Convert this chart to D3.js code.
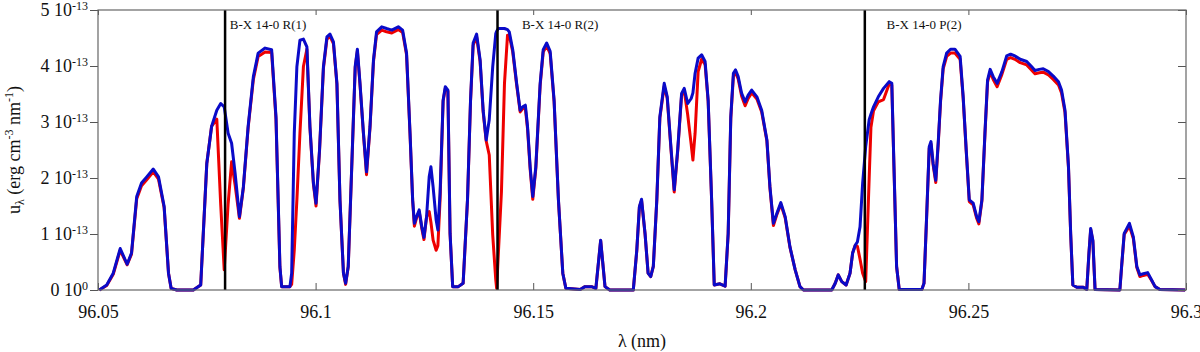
<!DOCTYPE html>
<html>
<head>
<meta charset="utf-8">
<script src="https://cdn.jsdelivr.net/npm/d3@7"></script>
<style>
  html, body { margin: 0; padding: 0; background: #fff; }
  svg text { font-family: 'Liberation Serif', 'Times New Roman', Times, serif; fill: #111; }
</style>
</head>
<body>
<div id="chart"></div>
<script>
// wavelength grid (nm), energy density in units of 1e-13 erg cm-3 nm-1
const wavelength = [
  96.0503, 96.0520, 96.0535, 96.0551, 96.0567, 96.0577, 96.0589, 96.0600, 96.0612, 96.0627,
  96.0639, 96.0652, 96.0662, 96.0668, 96.0681, 96.0719, 96.0736, 96.0750, 96.0761, 96.0773,
  96.0782, 96.0790, 96.0799, 96.0807, 96.0815, 96.0825, 96.0834, 96.0845, 96.0857, 96.0868,
  96.0884, 96.0899, 96.0909, 96.0918, 96.0922, 96.0941, 96.0945, 96.0951, 96.0957, 96.0964,
  96.0972, 96.0980, 96.0987, 96.0995, 96.1001, 96.1009, 96.1018, 96.1026, 96.1033, 96.1041,
  96.1049, 96.1056, 96.1064, 96.1069, 96.1075, 96.1083, 96.1091, 96.1096, 96.1102, 96.1110,
  96.1117, 96.1125, 96.1133, 96.1140, 96.1152, 96.1163, 96.1175, 96.1190, 96.1200, 96.1209,
  96.1217, 96.1223, 96.1227, 96.1232, 96.1238, 96.1244, 96.1249, 96.1255, 96.1261, 96.1265,
  96.1270, 96.1277, 96.1281, 96.1286, 96.1293, 96.1298, 96.1304, 96.1309, 96.1315, 96.1328,
  96.1339, 96.1349, 96.1356, 96.1362, 96.1370, 96.1378, 96.1385, 96.1392, 96.1399, 96.1407,
  96.1414, 96.1416, 96.1420, 96.1427, 96.1434, 96.1441, 96.1445, 96.1453, 96.1462, 96.1470,
  96.1476, 96.1482, 96.1487, 96.1493, 96.1499, 96.1506, 96.1516, 96.1523, 96.1531, 96.1539,
  96.1548, 96.1558, 96.1568, 96.1575, 96.1608, 96.1619, 96.1634, 96.1644, 96.1655, 96.1665,
  96.1676, 96.1730, 96.1738, 96.1744, 96.1749, 96.1757, 96.1764, 96.1770, 96.1776, 96.1784,
  96.1791, 96.1801, 96.1808, 96.1817, 96.1824, 96.1832, 96.1841, 96.1847, 96.1855, 96.1863,
  96.1867, 96.1872, 96.1879, 96.1887, 96.1895, 96.1902, 96.1910, 96.1916, 96.1929, 96.1941,
  96.1948, 96.1954, 96.1960, 96.1965, 96.1971, 96.1979, 96.1987, 96.1994, 96.2002, 96.2014,
  96.2025, 96.2037, 96.2044, 96.2052, 96.2060, 96.2069, 96.2079, 96.2090, 96.2102, 96.2113,
  96.2121, 96.2186, 96.2194, 96.2201, 96.2209, 96.2219, 96.2228, 96.2234, 96.2240, 96.2245,
  96.2251, 96.2257, 96.2264, 96.2272, 96.2276, 96.2282, 96.2293, 96.2305, 96.2318, 96.2324,
  96.2329, 96.2335, 96.2341, 96.2393, 96.2398, 96.2404, 96.2410, 96.2414, 96.2419, 96.2425,
  96.2431, 96.2436, 96.2442, 96.2450, 96.2459, 96.2469, 96.2481, 96.2488, 96.2495, 96.2502,
  96.2511, 96.2519, 96.2524, 96.2531, 96.2538, 96.2544, 96.2550, 96.2557, 96.2566, 96.2577,
  96.2588, 96.2597, 96.2607, 96.2619, 96.2634, 96.2645, 96.2653, 96.2663, 96.2672, 96.2684,
  96.2695, 96.2707, 96.2714, 96.2722, 96.2730, 96.2735, 96.2740, 96.2749, 96.2764, 96.2772,
  96.2777, 96.2781, 96.2786, 96.2791, 96.2848, 96.2852, 96.2858, 96.2870, 96.2879, 96.2887,
  96.2894, 96.2902, 96.2912, 96.2921, 96.2929, 96.2940, 96.2998
]

const modelBlue = [
  0, 0.09, 0.30, 0.74, 0.46, 0.66, 1.67, 1.91, 2.02, 2.16,
  2.02, 1.49, 0.30, 0.03, 0, 0, 0.09, 2.26, 2.92, 3.21,
  3.33, 3.27, 2.80, 2.62, 2.09, 1.31, 1.84, 2.92, 3.81, 4.23,
  4.32, 4.29, 3.09, 0.42, 0.06, 0.06, 0.30, 2.80, 3.99, 4.46,
  4.48, 4.34, 2.92, 1.91, 1.55, 2.50, 3.99, 4.52, 4.57, 4.43,
  3.69, 1.61, 0.30, 0.12, 0.42, 2.20, 3.99, 4.30, 3.69, 2.80,
  2.11, 2.92, 4.11, 4.61, 4.70, 4.67, 4.64, 4.70, 4.64, 4.23,
  2.80, 1.61, 1.19, 1.31, 1.43, 1.13, 0.94, 1.31, 2.02, 2.20,
  1.84, 1.25, 1.07, 1.73, 3.39, 3.63, 3.57, 1.01, 0.06, 0.06,
  0.12, 1.61, 3.39, 4.41, 4.57, 4.11, 3.21, 2.68, 3.04, 3.99,
  4.58, 4.62, 4.67, 4.67, 4.67, 4.65, 4.61, 4.29, 3.69, 3.21,
  3.27, 3.30, 2.92, 2.20, 1.67, 2.20, 3.69, 4.29, 4.41, 4.26,
  3.39, 1.61, 0.30, 0.03, 0.01, 0.06, 0.06, 0.03, 0.89, 0.06,
  0, 0, 0.71, 1.49, 1.62, 1.01, 0.30, 0.24, 0.42, 1.61,
  3.09, 3.69, 3.45, 2.50, 1.79, 2.50, 3.51, 3.60, 3.33, 3.42,
  3.52, 3.87, 4.14, 4.20, 4.08, 3.39, 1.61, 0.09, 0.11, 0.07,
  1.01, 3.09, 3.87, 3.93, 3.81, 3.51, 3.36, 3.48, 3.57, 3.45,
  3.21, 2.68, 1.84, 1.19, 1.37, 1.56, 1.31, 0.77, 0.36, 0.06,
  0, 0, 0.12, 0.27, 0.15, 0.09, 0.30, 0.66, 0.80, 0.86,
  1.13, 1.91, 2.56, 3.04, 3.14, 3.27, 3.45, 3.60, 3.72, 3.69,
  2.20, 0.42, 0.01, 0.01, 0.12, 1.31, 2.56, 2.65, 2.26, 1.96,
  2.68, 3.39, 3.99, 4.23, 4.30, 4.30, 4.17, 3.45, 2.50, 1.61,
  1.55, 1.31, 1.22, 1.61, 2.80, 3.75, 3.94, 3.81, 3.69, 3.90,
  4.18, 4.21, 4.18, 4.12, 4.08, 3.99, 3.92, 3.94, 3.95, 3.90,
  3.82, 3.72, 3.57, 3.21, 2.20, 1.01, 0.09, 0.05, 0.05, 0.01,
  0.66, 1.10, 0.89, 0.01, 0, 0.42, 1.01, 1.19, 0.95, 0.42,
  0.27, 0.29, 0.31, 0.18, 0.06, 0.01, 0
]

const modelRed = [
  0, 0.08, 0.28, 0.71, 0.45, 0.64, 1.63, 1.86, 1.97, 2.11,
  1.98, 1.47, 0.30, 0.03, 0, 0, 0.09, 2.26, 2.92, 3.05,
  1.52, 0.36, 1.54, 2.29, 1.88, 1.28, 1.82, 2.90, 3.76, 4.17,
  4.25, 4.24, 3.05, 0.40, 0.06, 0.06, 0.10, 0.71, 1.61, 2.80,
  3.99, 4.30, 2.90, 1.89, 1.50, 2.48, 3.96, 4.48, 4.53, 4.40,
  3.67, 1.60, 0.30, 0.10, 0.42, 2.18, 3.97, 4.27, 3.67, 2.78,
  2.06, 2.90, 4.08, 4.56, 4.64, 4.61, 4.59, 4.65, 4.60, 4.20,
  2.78, 1.60, 1.14, 1.29, 1.40, 1.10, 0.90, 1.31, 1.40, 1.21,
  0.89, 0.71, 0.79, 1.61, 3.37, 3.60, 3.55, 1.00, 0.06, 0.06,
  0.12, 1.60, 3.37, 4.37, 4.52, 4.08, 3.18, 2.66, 2.41, 0.98,
  0.18, 0.03, 0.66, 1.75, 3.69, 4.55, 4.55, 4.25, 3.66, 3.18,
  3.24, 3.24, 2.88, 2.16, 1.62, 2.17, 3.66, 4.25, 4.36, 4.22,
  3.37, 1.60, 0.30, 0.03, 0.01, 0.06, 0.06, 0.03, 0.88, 0.06,
  0, 0, 0.70, 1.48, 1.60, 1.00, 0.30, 0.24, 0.42, 1.60,
  3.07, 3.64, 3.42, 2.47, 1.75, 2.48, 3.48, 3.56, 3.13, 2.60,
  2.32, 2.80, 3.90, 4.12, 4.03, 3.37, 1.60, 0.09, 0.11, 0.07,
  1.00, 3.06, 3.82, 3.88, 3.77, 3.46, 3.29, 3.42, 3.52, 3.41,
  3.18, 2.66, 1.82, 1.15, 1.35, 1.53, 1.29, 0.76, 0.36, 0.06,
  0, 0, 0.12, 0.27, 0.15, 0.09, 0.30, 0.66, 0.80, 0.78,
  0.55, 0.30, 0.15, 2.00, 2.90, 3.20, 3.36, 3.40, 3.68, 3.66,
  2.18, 0.42, 0.01, 0.01, 0.12, 1.30, 2.53, 2.61, 2.23, 1.92,
  2.65, 3.36, 3.95, 4.17, 4.23, 4.23, 4.12, 3.42, 2.48, 1.58,
  1.52, 1.28, 1.18, 1.59, 2.78, 3.71, 3.89, 3.76, 3.63, 3.85,
  4.12, 4.15, 4.12, 4.06, 4.02, 3.93, 3.86, 3.88, 3.89, 3.84,
  3.76, 3.66, 3.52, 3.17, 2.18, 1.00, 0.09, 0.05, 0.05, 0.01,
  0.65, 1.08, 0.87, 0.01, 0, 0.41, 0.99, 1.14, 0.92, 0.40,
  0.24, 0.26, 0.28, 0.17, 0.06, 0.01, 0
]

const xTicks = [96.05, 96.1, 96.15, 96.2, 96.25, 96.3]
const xTickLabels = ['96.05', '96.1', '96.15', '96.2', '96.25', '96.3']
const yTicks = [0, 1, 2, 3, 4, 5]
const yTickMantissa = ['0', '1', '2', '3', '4', '5']
const yTickExponent = ['0', '-13', '-13', '-13', '-13', '-13']

const transitionNames = ['B-X 14-0 R(1)', 'B-X 14-0 R(2)', 'B-X 14-0 P(2)']
const transitionWavelength = [96.0792, 96.1418, 96.2262]
const transitionLabelAt = [96.0803, 96.1474, 96.2312]

const serif = "'Liberation Serif', 'Times New Roman', Times, serif"

const width = 1200
const height = 352
const margin = { top: 10, right: 14, bottom: 62, left: 98 }
const innerW = width - margin.left - margin.right
const innerH = height - margin.top - margin.bottom

const scaleX = d3.scaleLinear().domain([96.05, 96.3]).range([0, innerW])
const scaleY = d3.scaleLinear().domain([0, 5]).range([innerH, 0])

const svg = d3
  .select('#chart')
  .append('svg')
  .attr('width', width)
  .attr('height', height)

const g = svg
  .append('g')
  .attr('transform', `translate(${margin.left}, ${margin.top})`)

// red model underneath, blue model on top
const spectrum = (values) => d3
  .line()
  .x((d, i) => scaleX(wavelength[i]))
  .y((d) => scaleY(d))(values)

g.append('path')
  .attr('d', spectrum(modelRed))
  .attr('fill', 'none')
  .attr('stroke', '#ee0000')
  .attr('stroke-width', 3)
  .attr('stroke-linejoin', 'round')

g.append('path')
  .attr('d', spectrum(modelBlue))
  .attr('fill', 'none')
  .attr('stroke', '#0a0ac8')
  .attr('stroke-width', 3)
  .attr('stroke-linejoin', 'round')

// transition markers
transitionWavelength.forEach((w, i) => {
  g.append('line')
    .attr('x1', scaleX(w))
    .attr('x2', scaleX(w))
    .attr('y1', 0)
    .attr('y2', innerH)
    .attr('stroke', '#000')
    .attr('stroke-width', 2.5)

  g.append('text')
    .attr('x', scaleX(transitionLabelAt[i]))
    .attr('y', 19)
    .style('font-size', '13px')
    .text(transitionNames[i])
})

// axes
const axisStyle = (sel) => {
  sel.attr('font-family', null)
  sel.select('.domain').remove()
  sel.selectAll('.tick line').attr('stroke', '#555')
}

g.append('g')
  .attr('transform', `translate(0, ${innerH})`)
  .call(d3.axisBottom(scaleX).tickValues(xTicks).tickSizeInner(-7).tickSizeOuter(0).tickPadding(15)
    .tickFormat((d, i) => xTickLabels[i]))
  .call(axisStyle)
  .selectAll('text')
  .style('font-size', '18px')
  .attr('fill', '#111')

g.append('g')
  .call(d3.axisTop(scaleX).tickValues(xTicks).tickSizeInner(-5).tickSizeOuter(0).tickFormat(''))
  .call(axisStyle)

g.append('g')
  .call(d3.axisLeft(scaleY).tickValues(yTicks).tickSizeInner(8).tickSizeOuter(0).tickFormat(''))
  .call(axisStyle)

g.append('g')
  .attr('transform', `translate(${innerW}, 0)`)
  .call(d3.axisRight(scaleY).tickValues(yTicks).tickSizeInner(-8).tickSizeOuter(0).tickFormat(''))
  .call(axisStyle)

g.append('rect')
  .attr('width', innerW)
  .attr('height', innerH)
  .attr('fill', 'none')
  .attr('stroke', '#666')
  .attr('stroke-width', 1.2)

// y tick labels with exponents
yTicks.forEach((v, i) => {
  const t = g.append('text')
    .attr('x', -10)
    .attr('y', scaleY(v) + 6)
    .attr('text-anchor', 'end')
    .style('font-size', '18px')
  t.append('tspan').text(`${yTickMantissa[i]} 10`)
  t.append('tspan')
    .attr('dy', -6.5)
    .style('font-size', '12px')
    .text(yTickExponent[i])
})

// axis titles
svg.append('text')
  .attr('x', margin.left + innerW / 2)
  .attr('y', 347)
  .attr('text-anchor', 'middle')
  .style('font-size', '18px')
  .text('λ (nm)')

const yTitle = svg.append('text')
  .attr('transform', `translate(20, ${margin.top + innerH / 2}) rotate(-90)`)
  .attr('text-anchor', 'middle')
  .style('font-size', '18px')
yTitle.append('tspan').text('u')
yTitle.append('tspan').attr('dy', 4).style('font-size', '12px').text('λ')
yTitle.append('tspan').attr('dy', -4).text(' (erg cm')
yTitle.append('tspan').attr('dy', -7).style('font-size', '12px').text('-3')
yTitle.append('tspan').attr('dy', 7).text(' nm')
yTitle.append('tspan').attr('dy', -7).style('font-size', '12px').text('-1')
yTitle.append('tspan').attr('dy', 7).text(')')

svg.selectAll('text').style('font-family', serif)
</script>
</body>
</html>
